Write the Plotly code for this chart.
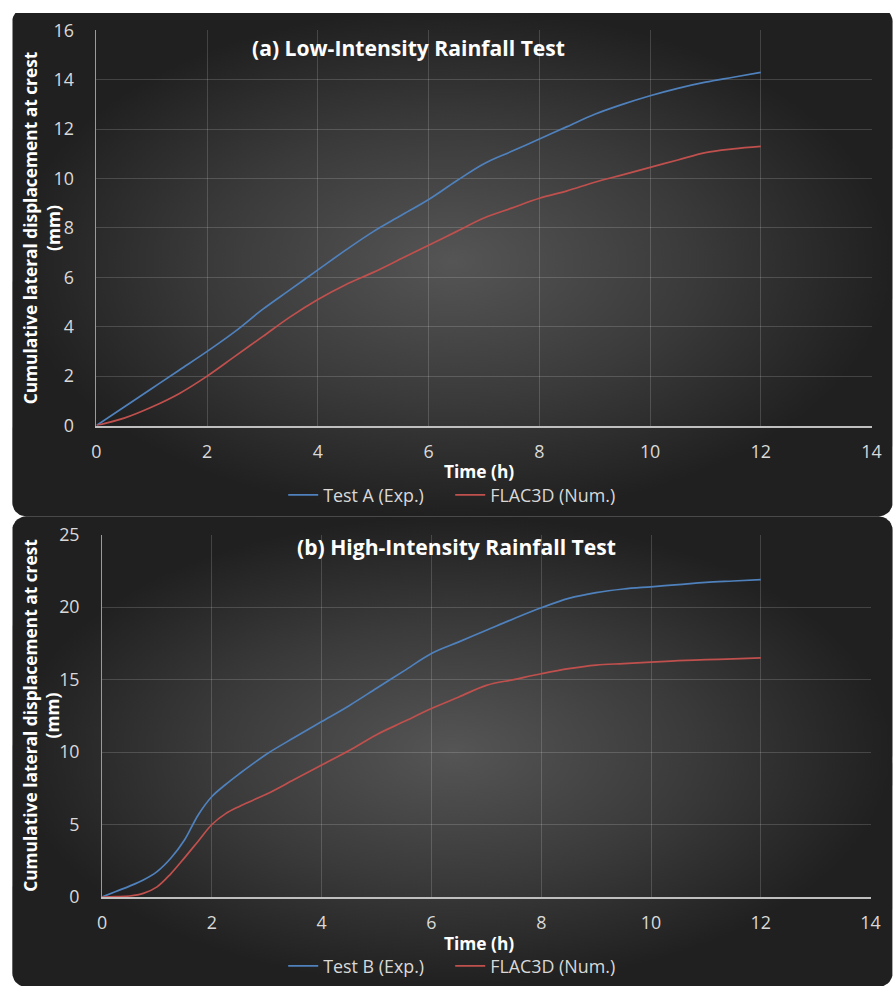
import plotly.graph_objects as go
import numpy as np

# ---------------- data ----------------
time_a = [0, 0.5, 1, 1.5, 2, 2.5, 3, 3.5, 4, 4.5, 5, 5.5, 6, 6.5, 7, 7.5, 8,
          8.5, 9, 9.5, 10, 10.5, 11, 11.5, 12]
test_a_exp = [0, 0.75, 1.5, 2.25, 3.0, 3.8, 4.7, 5.5, 6.3, 7.1, 7.85, 8.5, 9.15,
              9.9, 10.6, 11.1, 11.6, 12.1, 12.6, 13.0, 13.35, 13.65, 13.9, 14.1, 14.3]
flac_a_num = [0, 0.3, 0.75, 1.3, 2.0, 2.8, 3.6, 4.4, 5.1, 5.7, 6.2, 6.75, 7.3,
              7.85, 8.4, 8.8, 9.2, 9.5, 9.85, 10.15, 10.45, 10.75, 11.05, 11.2, 11.3]

time_b = [0, 0.25, 0.5, 0.75, 1, 1.25, 1.5, 1.75, 2, 2.25, 2.5, 2.75, 3, 3.5, 4,
          4.5, 5, 5.5, 6, 6.5, 7, 7.5, 8, 8.5, 9, 9.5, 10, 10.5, 11, 11.5, 12]
test_b_exp = [0, 0.38, 0.75, 1.17, 1.75, 2.67, 3.93, 5.66, 6.93, 7.76, 8.5, 9.2, 9.87,
              11.0, 12.1, 13.2, 14.4, 15.6, 16.8, 17.6, 18.4, 19.2, 19.95, 20.6, 21.0,
              21.25, 21.4, 21.55, 21.7, 21.8, 21.9]
flac_b_num = [0, 0.02, 0.07, 0.25, 0.7, 1.6, 2.7, 3.85, 5.0, 5.75, 6.25, 6.68, 7.1,
              8.1, 9.1, 10.1, 11.2, 12.1, 13.0, 13.8, 14.6, 15.0, 15.4, 15.75, 16.0,
              16.1, 16.2, 16.3, 16.37, 16.43, 16.5]

titles = ["(a) Low-Intensity Rainfall Test", "(b) High-Intensity Rainfall Test"]
legend_names = [["Test A (Exp.)", "FLAC3D (Num.)"], ["Test B (Exp.)", "FLAC3D (Num.)"]]
x_title = "Time (h)"
y_title = "Cumulative lateral displacement at crest<br>(mm)"

# ---------------- styling ----------------
# the captured page is slightly scaled/offset; place things in target pixels
SX, OX = 0.982, 4.7
SY, OY = 0.975, 12.2


def dx(x):
    return (x - OX) / SX


def dy(y):
    return (y - OY) / SY


W, H = 905, 999
FS = 1 / 0.98
FONT = "Open Sans"
BLUE = "#4f81bd"
RED = "#c0504d"
TICK = "#d9d9d9"
GRID = "rgba(255,255,255,0.16)"

fig = go.Figure()


def rounded_rect(x0, y0, x1, y1, r, n=10):
    xs, ys = [], []
    corners = [(x1 - r, y0 + r, -90, 0), (x1 - r, y1 - r, 0, 90),
               (x0 + r, y1 - r, 90, 180), (x0 + r, y0 + r, 180, 270)]
    for cx, cy, a0, a1 in corners:
        for a in np.linspace(np.radians(a0), np.radians(a1), n):
            xs.append(cx + r * np.cos(a))
            ys.append(cy + r * np.sin(a))
    xs.append(xs[0]); ys.append(ys[0])
    return xs, ys


# panel backgrounds (decoration) on a full-page hidden axis
for (y0, y1) in [(7, 515), (515, 985)]:
    xs, ys = rounded_rect(dx(12), dy(y0), dx(891), dy(y1), 14)
    fig.add_trace(go.Scatter(
        x=xs, y=ys, mode="lines", line=dict(width=0), fill="toself",
        fillcolor="#2e2e2e",
        fillgradient=dict(type="radial",
                          colorscale=[[0, "#555555"], [0.55, "#3a3a3a"], [1, "#202020"]]),
        hoverinfo="skip", showlegend=False, xaxis="x", yaxis="y"))

panels = [
    dict(xa="x2", ya="y2", t=time_a, ys=[test_a_exp, flac_a_num], legend="legend",
         xr=(96, 870), yr=(29.5, 424.3), yrange=[0, 16], dtick=2),
    dict(xa="x3", ya="y3", t=time_b, ys=[test_b_exp, flac_b_num], legend="legend2",
         xr=(101.7, 869), yr=(533.3, 895.3), yrange=[0, 25], dtick=5),
]

for i, p in enumerate(panels):
    for series, name, col in zip(p["ys"], legend_names[i], [BLUE, RED]):
        fig.add_trace(go.Scatter(
            x=p["t"], y=series, name=name, mode="lines",
            line=dict(color=col, width=1.7, shape="spline", smoothing=1.0),
            xaxis=p["xa"], yaxis=p["ya"], legend=p["legend"]))

axis_common = dict(showgrid=True, gridcolor=GRID, gridwidth=1, zeroline=False,
                   tickfont=dict(family=FONT, size=17.5 * FS, color=TICK),
                   ticks="", fixedrange=True)

layout = dict(
    width=W, height=H, margin=dict(l=0, r=0, t=0, b=0),
    paper_bgcolor="white", plot_bgcolor="rgba(0,0,0,0)",
    font=dict(family=FONT, color=TICK),
    xaxis=dict(domain=[0, 1], range=[0, W], visible=False, fixedrange=True),
    yaxis=dict(domain=[0, 1], range=[H, 0], visible=False, fixedrange=True),
)

for i, p in enumerate(panels):
    k = p["xa"][1:]
    xdom = [dx(p["xr"][0]) / W, dx(p["xr"][1]) / W]
    ydom = [(H - dy(p["yr"][1])) / H, (H - dy(p["yr"][0])) / H]
    layout["xaxis" + k] = dict(axis_common, domain=xdom, range=[0, 14], dtick=2,
                               tick0=0, anchor=p["ya"], showline=True,
                               linecolor="#bfbfbf", linewidth=2,
                               ticklabelstandoff=9)
    layout["yaxis" + k] = dict(axis_common, domain=ydom, range=p["yrange"],
                               dtick=p["dtick"], tick0=0, anchor=p["xa"],
                               showline=True, linecolor="#9a9a9a", linewidth=1,
                               ticklabelstandoff=18)

for key, ly in [("legend", 494), ("legend2", 964.5)]:
    layout[key] = dict(orientation="h", x=dx(282.5) / W, y=(H - dy(ly)) / H,
                       xanchor="left", yanchor="middle", bgcolor="rgba(0,0,0,0)",
                       font=dict(family=FONT, size=17.5 * FS, color=TICK),
                       entrywidth=122, entrywidthmode="pixels",
                       tracegroupgap=0)

fig.update_layout(**layout)

annos = []
for i, (tx, ty, xty, yty) in enumerate([(408, 47, 470, 227), (456, 545, 941, 714)]):
    annos.append(dict(text="<b>" + titles[i] + "</b>", xref="paper", yref="paper",
                      x=dx(tx) / W, y=(H - dy(ty)) / H, showarrow=False,
                      font=dict(family=FONT, size=20.7 * FS, color="white"),
                      xanchor="center", yanchor="middle"))
    annos.append(dict(text="<b>" + x_title + "</b>", xref="paper", yref="paper",
                      x=dx(478) / W, y=(H - dy(xty)) / H, showarrow=False,
                      font=dict(family=FONT, size=17 * FS, color="white"),
                      xanchor="center", yanchor="middle"))
    annos.append(dict(text="<b>" + y_title + "</b>", xref="paper", yref="paper",
                      x=dx(41) / W, y=(H - dy(yty)) / H, showarrow=False,
                      textangle=-90,
                      font=dict(family=FONT, size=17 * FS, color="white"),
                      xanchor="center", yanchor="middle"))
fig.update_layout(annotations=annos)

fig.write_html(
    "out.html",
    config={"displayModeBar": False},
    post_script="document.body.style.margin='0px';"
                "document.documentElement.style.overflow='hidden';"
                "document.body.style.overflow='hidden';")
